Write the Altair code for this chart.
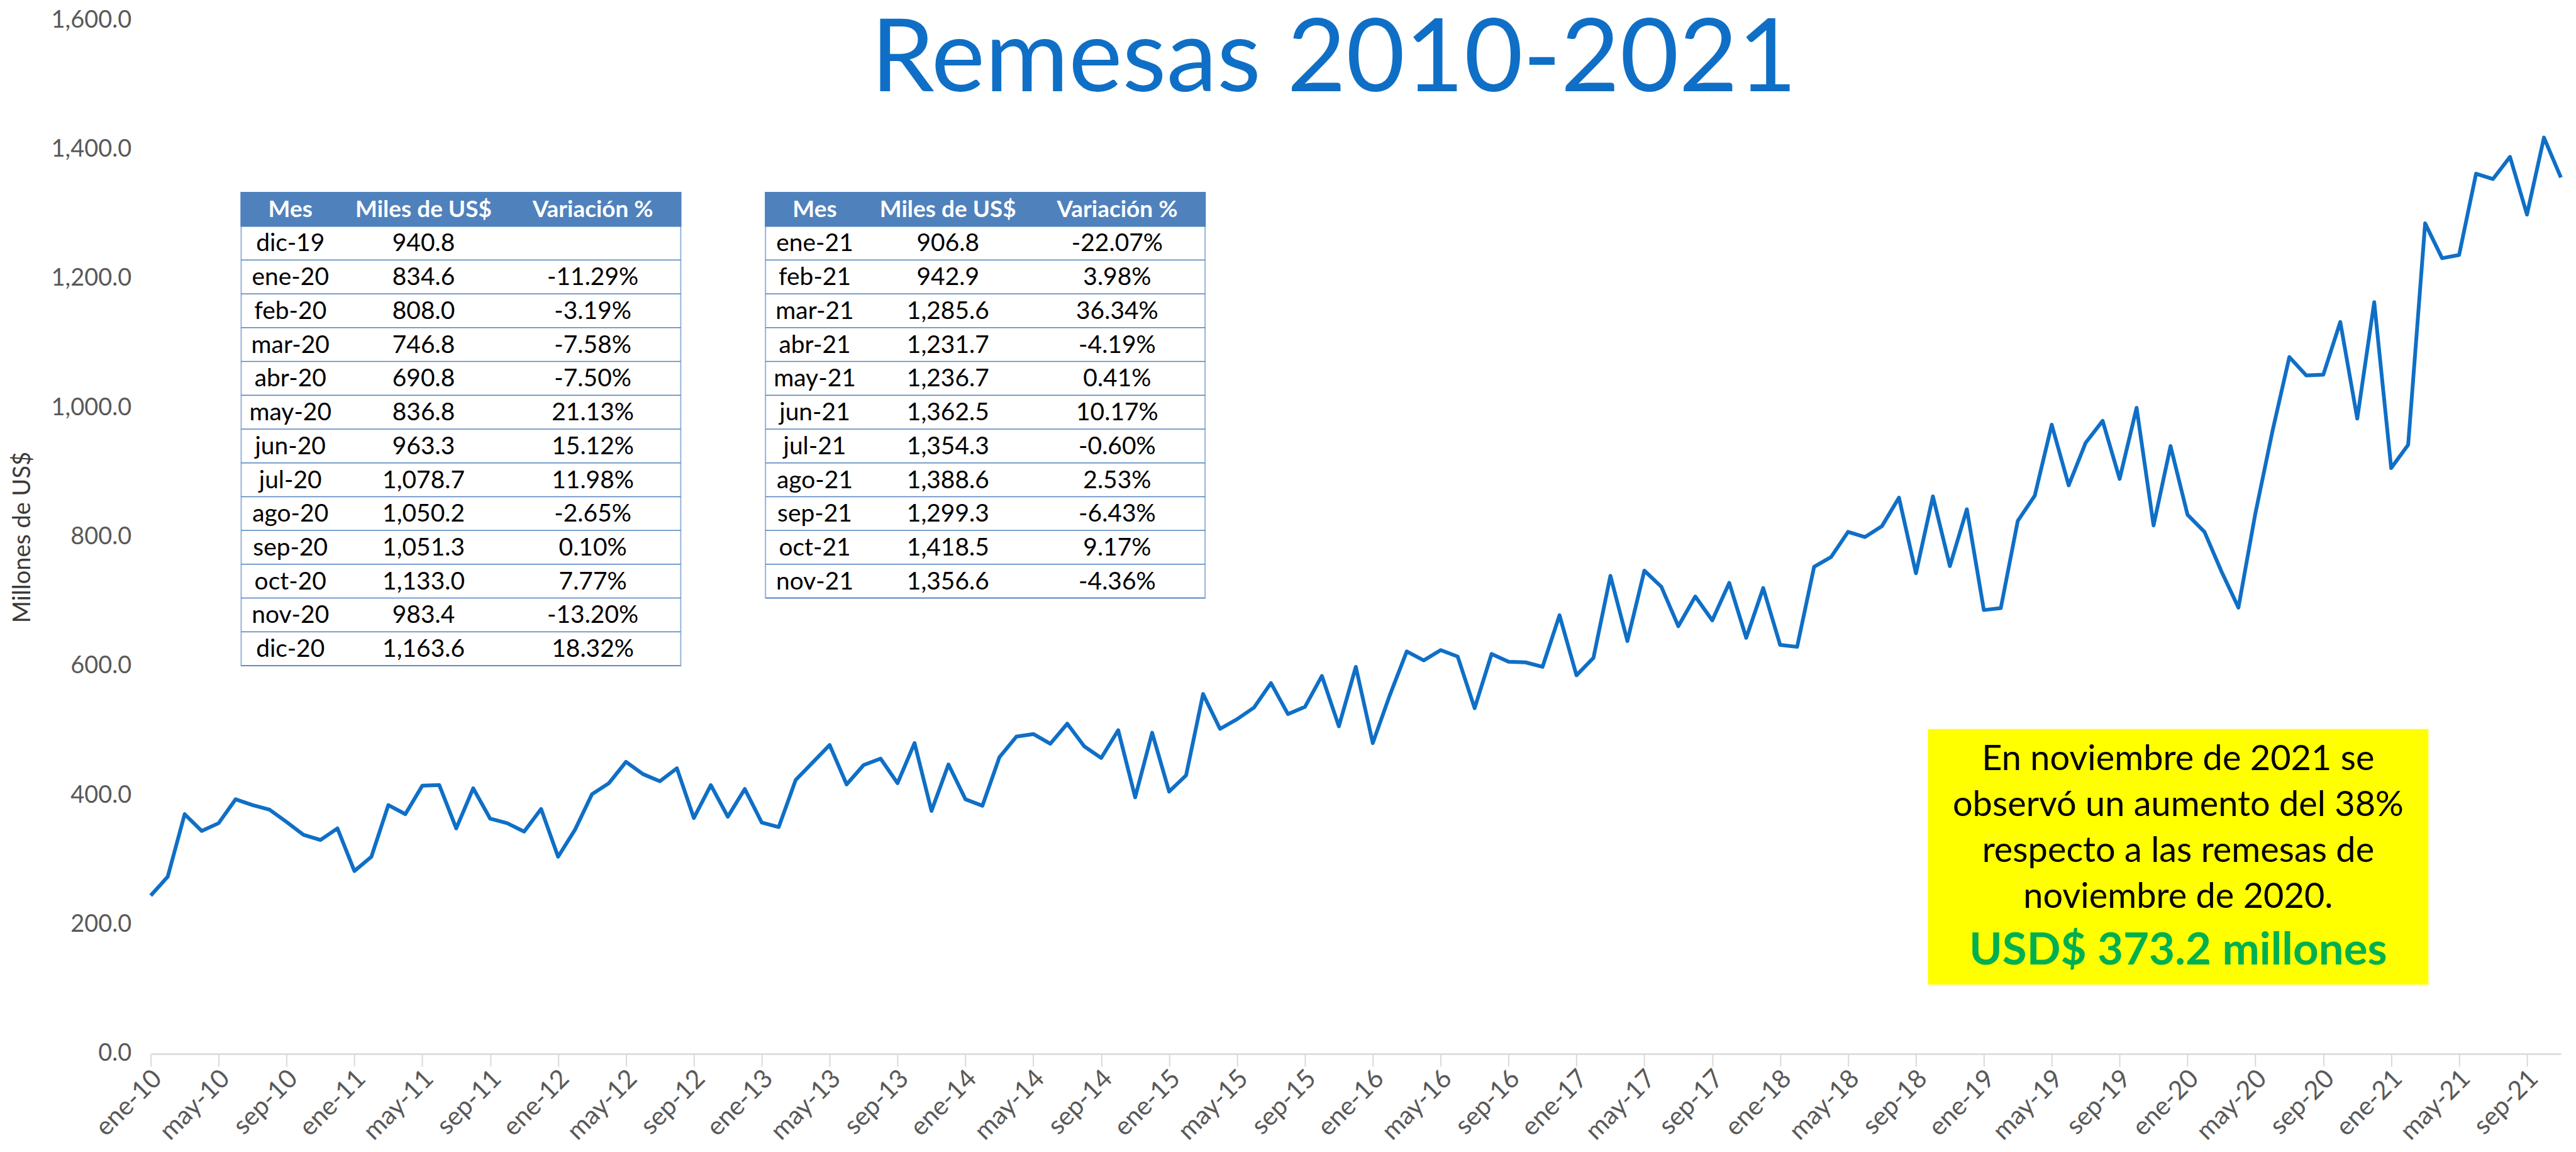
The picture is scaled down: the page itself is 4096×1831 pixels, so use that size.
import altair as alt
import pandas as pd

# ---------------- data ----------------
MESES = ['ene', 'feb', 'mar', 'abr', 'may', 'jun', 'jul', 'ago', 'sep', 'oct', 'nov', 'dic']
ANIOS = list(range(2010, 2022))

v2010 = [245, 274, 371, 345, 357, 394, 385, 378, 359, 339, 331, 349]
v2011 = [283, 305, 385, 371, 415, 416, 349, 411, 364, 357, 344, 379]
v2012 = [305, 347, 402, 419, 452, 433, 422, 442, 365, 416, 367, 410]
v2013 = [358, 351, 424, 451, 478, 417, 447, 457, 419, 481, 376, 448]
v2014 = [394, 384, 459, 491, 495, 480, 511, 476, 458, 501, 397, 497]
v2015 = [406, 431, 557, 503, 518, 536, 574, 526, 537, 585, 507, 599]
v2016 = [481, 555, 623, 609, 625, 615, 535, 619, 607, 606, 599, 679]
v2017 = [586, 613, 740, 639, 748, 723, 662, 708, 671, 729, 644, 721]
v2018 = [633, 630, 754, 769, 808, 800, 817, 861, 744, 863, 755, 843]
v2019 = [687, 690, 825, 864, 974, 880, 946, 980, 890, 1000, 818, 940.8]
v2020 = [834.6, 808.0, 746.8, 690.8, 836.8, 963.3, 1078.7, 1050.2, 1051.3, 1133.0, 983.4, 1163.6]
v2021 = [906.8, 942.9, 1285.6, 1231.7, 1236.7, 1362.5, 1354.3, 1388.6, 1299.3, 1418.5, 1356.6]

serie = (v2010 + v2011 + v2012 + v2013 + v2014 + v2015 + v2016 + v2017 +
         v2018 + v2019 + v2020 + v2021)
etiquetas = [f"{m}-{str(a)[2:]}" for a in ANIOS for m in MESES][:len(serie)]
y_ticks = [0, 200, 400, 600, 800, 1000, 1200, 1400, 1600]

encabezados = ['Mes', 'Miles de US$', 'Variación %']
t1_mes = ['dic-19', 'ene-20', 'feb-20', 'mar-20', 'abr-20', 'may-20', 'jun-20',
          'jul-20', 'ago-20', 'sep-20', 'oct-20', 'nov-20', 'dic-20']
t1_miles = ['940.8', '834.6', '808.0', '746.8', '690.8', '836.8', '963.3',
            '1,078.7', '1,050.2', '1,051.3', '1,133.0', '983.4', '1,163.6']
t1_var = ['', '-11.29%', '-3.19%', '-7.58%', '-7.50%', '21.13%', '15.12%',
          '11.98%', '-2.65%', '0.10%', '7.77%', '-13.20%', '18.32%']
t2_mes = ['ene-21', 'feb-21', 'mar-21', 'abr-21', 'may-21', 'jun-21',
          'jul-21', 'ago-21', 'sep-21', 'oct-21', 'nov-21']
t2_miles = ['906.8', '942.9', '1,285.6', '1,231.7', '1,236.7', '1,362.5',
            '1,354.3', '1,388.6', '1,299.3', '1,418.5', '1,356.6']
t2_var = ['-22.07%', '3.98%', '36.34%', '-4.19%', '0.41%', '10.17%',
          '-0.60%', '2.53%', '-6.43%', '9.17%', '-4.36%']

titulo = 'Remesas 2010-2021'
nota = ['En noviembre de 2021 se', 'observó un aumento del 38%',
        'respecto a las remesas de', 'noviembre de 2020.']
nota_destacada = 'USD$ 373.2 millones'

# ---------------- layout (pixels, plot-area coordinates) ----------------
PLOT_W, PLOT_H = 3838, 1645
PAD_L, PAD_T, PAD_R, PAD_B = 232, 23, 16, 155
FONT = 'Lato'
BLUE = '#0F6FC6'

T_W, ROW_H, T_TOP = 700, 53.8, 274
T_LEFTS = [144, 979]
COL_FR = [0.112, 0.415, 0.800]
BOX = (2830, 1128, 3627, 1535)

df = pd.DataFrame({'mes': etiquetas, 'valor': serie})

line = alt.Chart(df).mark_line(color=BLUE, strokeWidth=6, strokeJoin='round').encode(
    x=alt.X('mes:O', sort=etiquetas, scale=alt.Scale(type='point', padding=0),
            axis=alt.Axis(values=etiquetas[::4], labelAngle=-45, labelAlign='right',
                          labelBaseline='middle', labelFont=FONT, labelFontSize=41,
                          labelColor='#595959', labelPadding=13, labelOffset=11,
                          labelOverlap=False, labelBound=False,
                          domainColor='#D9D9D9', domainWidth=2.5, tickColor='#D9D9D9',
                          tickWidth=2, tickSize=20, grid=False, title=None)),
    y=alt.Y('valor:Q', scale=alt.Scale(domain=[0, 1600], nice=False, zero=True),
            axis=alt.Axis(values=y_ticks, format=',.1f', grid=False, domain=False,
                          ticks=False, labelFont=FONT, labelFontSize=38,
                          labelColor='#595959', labelPadding=31,
                          title='Millones de US$', titleFont=FONT, titleFontSize=38,
                          titleFontWeight='normal', titleColor='#3A3A3A',
                          titleX=-203, titleY=PLOT_H / 2, titleAngle=-90,
                          titleBaseline='middle', titleAlign='center'))
)

# ---- tables ----
rects, rules, texts = [], [], []
for left, (mes, miles, var) in zip(T_LEFTS, [(t1_mes, t1_miles, t1_var),
                                              (t2_mes, t2_miles, t2_var)]):
    n = len(mes)
    bottom = T_TOP + ROW_H * (n + 1)
    rects.append({'x': left, 'x2': left + T_W, 'y': T_TOP, 'y2': bottom,
                  'fill': '#FFFFFF', 'stroke': '#95B3D7'})
    rects.append({'x': left, 'x2': left + T_W, 'y': T_TOP, 'y2': T_TOP + ROW_H,
                  'fill': '#4F81BD', 'stroke': '#4F81BD'})
    for i in range(1, n + 1):
        rules.append({'x': left, 'x2': left + T_W, 'y': T_TOP + ROW_H * (i + 1)})
    for j, h in enumerate(encabezados):
        texts.append({'x': left + T_W * COL_FR[j], 'y': T_TOP + ROW_H / 2 + 1,
                      't': h, 'kind': 'head'})
    for i in range(n):
        cy = T_TOP + ROW_H * (i + 1) + ROW_H / 2 + 1
        for j, val in enumerate([mes[i], miles[i], var[i]]):
            texts.append({'x': left + T_W * COL_FR[j], 'y': cy, 't': val, 'kind': 'body'})

rect_df = pd.DataFrame(rects)
rule_df = pd.DataFrame(rules)
text_df = pd.DataFrame(texts)

tab_rects = alt.Chart(rect_df).mark_rect(strokeWidth=2).encode(
    x=alt.X('x:Q', scale=None, axis=None), x2='x2:Q',
    y=alt.Y('y:Q', scale=None, axis=None), y2='y2:Q',
    fill=alt.Fill('fill:N', scale=None), stroke=alt.Stroke('stroke:N', scale=None))

tab_rules = alt.Chart(rule_df).mark_rule(color='#4F81BD', strokeWidth=1.5).encode(
    x=alt.X('x:Q', scale=None, axis=None), x2='x2:Q',
    y=alt.Y('y:Q', scale=None, axis=None))

head_txt = alt.Chart(text_df[text_df.kind == 'head']).mark_text(
    font=FONT, fontSize=37, fontWeight='bold', color='white', align='center',
    baseline='middle').encode(
    x=alt.X('x:Q', scale=None, axis=None), y=alt.Y('y:Q', scale=None, axis=None), text='t:N')

body_txt = alt.Chart(text_df[text_df.kind == 'body']).mark_text(
    font=FONT, fontSize=39, color='black', align='center', baseline='middle').encode(
    x=alt.X('x:Q', scale=None, axis=None), y=alt.Y('y:Q', scale=None, axis=None), text='t:N')

# ---- yellow note ----
box_df = pd.DataFrame([{'x': BOX[0], 'x2': BOX[2], 'y': BOX[1], 'y2': BOX[3]}])
box = alt.Chart(box_df).mark_rect(color='#FFFF00').encode(
    x=alt.X('x:Q', scale=None, axis=None), x2='x2:Q',
    y=alt.Y('y:Q', scale=None, axis=None), y2='y2:Q')

bh = BOX[3] - BOX[1]
cx = (BOX[0] + BOX[2]) / 2
nota_df = pd.DataFrame({'t': nota, 'x': [cx] * 4,
                        'y': [BOX[1] + f * bh for f in [0.16, 0.34, 0.52, 0.70]]})
nota_txt = alt.Chart(nota_df).mark_text(
    font=FONT, fontSize=56, color='black', align='center', baseline='alphabetic').encode(
    x=alt.X('x:Q', scale=None, axis=None), y=alt.Y('y:Q', scale=None, axis=None), text='t:N')

dest_df = pd.DataFrame({'t': [nota_destacada], 'x': [cx], 'y': [BOX[1] + 0.92 * bh]})
dest_txt = alt.Chart(dest_df).mark_text(
    font=FONT, fontSize=71, fontWeight='bold', color='#00B050', align='center',
    baseline='alphabetic').encode(
    x=alt.X('x:Q', scale=None, axis=None), y=alt.Y('y:Q', scale=None, axis=None), text='t:N')

# ---- title ----
tit_df = pd.DataFrame({'t': [titulo], 'x': [1884], 'y': [113]})
tit = alt.Chart(tit_df).mark_text(
    font=FONT, fontSize=162, color=BLUE, align='center', baseline='alphabetic').encode(
    x=alt.X('x:Q', scale=None, axis=None), y=alt.Y('y:Q', scale=None, axis=None), text='t:N')

chart = alt.layer(line, tab_rects, tab_rules, head_txt, body_txt, box, nota_txt,
                  dest_txt, tit).properties(
    width=PLOT_W, height=PLOT_H,
    autosize=alt.AutoSizeParams(type='none'),
    padding={'left': PAD_L, 'top': PAD_T, 'right': PAD_R, 'bottom': PAD_B},
    background='white'
).configure_view(stroke=None)

chart.save('out.html', embed_options={'renderer': 'svg', 'actions': False})
